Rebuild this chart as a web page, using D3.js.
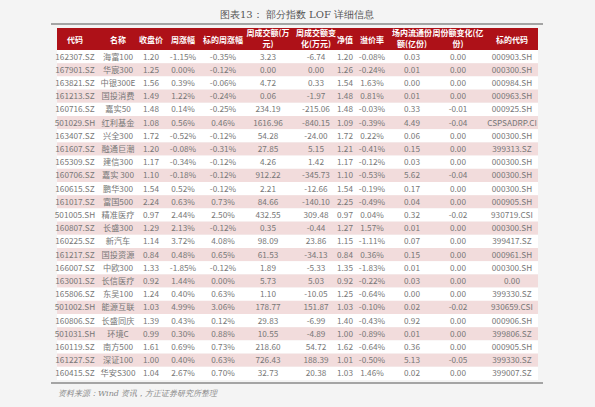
<!DOCTYPE html><html><head><meta charset="utf-8"><script src="https://cdn.jsdelivr.net/npm/d3@7"></script>
<style>body{margin:0;background:#f4f4f4}</style></head><body><svg id="c" width="595" height="407"></svg><script>
const headers=[["代码"],["名称"],["收盘价"],["周涨幅"],["标的周涨幅"],["周成交额(万","元)"],["周成交额变","化(万元)"],["净值"],["溢价率"],["场内流通份","额(亿份)"],["周份额变化(亿","份)"],["标的代码"]];
const codes=["162307.SZ","167901.SZ","163821.SZ","161213.SZ","160716.SZ","501029.SH","163407.SZ","161607.SZ","165309.SZ","160706.SZ","160615.SZ","161017.SZ","501005.SH","160807.SZ","160225.SZ","161217.SZ","166007.SZ","163001.SZ","165806.SZ","501002.SH","160806.SZ","501031.SH","160119.SZ","161227.SZ","160415.SZ"];
const names=["海富100","华宸300","中银300E","国投消费","嘉实50","红利基金","兴全300","融通巨潮","建信300","嘉实 300","鹏华300","富国500","精准医疗","长盛300","新汽车","国投资源","中欧300","长信医疗","东吴100","能源互联","长盛同庆","环境C","南方500","深证100","华安S300"];
const close=["1.20","1.25","1.56","1.49","1.48","1.08","1.72","1.20","1.17","1.10","1.54","2.24","0.97","1.29","1.14","0.84","1.33","0.92","1.24","1.03","1.39","0.99","1.61","1.00","1.04"];
const weekChg=["-1.15%","0.00%","0.39%","1.22%","0.14%","0.56%","-0.52%","-0.08%","-0.34%","-0.18%","0.52%","0.63%","2.44%","2.13%","3.72%","0.48%","-1.85%","1.44%","0.40%","4.99%","0.43%","0.30%","0.69%","0.40%","2.67%"];
const idxChg=["-0.35%","-0.12%","-0.06%","-0.24%","-0.25%","0.46%","-0.12%","-0.31%","-0.12%","-0.12%","-0.12%","0.73%","2.50%","-0.12%","4.08%","0.65%","-0.12%","0.00%","0.63%","3.06%","0.12%","0.88%","0.73%","0.63%","0.70%"];
const turnover=["3.23","0.00","4.72","0.06","234.19","1616.96","54.28","27.85","4.26","912.22","2.21","84.66","432.55","0.35","98.09","61.53","1.89","5.73","1.10","178.77","29.83","10.55","218.60","726.43","32.73"];
const turnoverChg=["-6.74","0.00","0.33","-1.97","-215.06","-840.15","-24.00","5.15","1.42","-345.73","-12.66","-140.10","309.48","-0.44","23.86","-34.13","-5.33","5.03","-10.05","151.87","-6.99","-4.89","54.72","188.39","20.38"];
const nav=["1.20","1.26","1.54","1.48","1.48","1.09","1.72","1.21","1.17","1.10","1.54","2.25","0.97","1.27","1.15","0.84","1.35","0.92","1.25","1.03","1.40","1.00","1.62","1.01","1.03"];
const premium=["-0.08%","-0.24%","1.63%","0.81%","-0.03%","-0.39%","0.22%","-0.41%","-0.12%","-0.53%","-0.19%","-0.49%","0.04%","1.57%","-1.11%","0.36%","-1.83%","-0.22%","-0.64%","-0.10%","-0.43%","-0.89%","-0.64%","-0.50%","1.46%"];
const shares=["0.03","0.01","0.00","0.01","0.33","4.49","0.06","0.15","0.03","5.62","0.17","0.04","0.32","0.01","0.07","0.15","0.01","0.03","0.00","0.02","0.92","0.01","0.36","5.13","0.02"];
const shareChg=["0.00","0.00","0.00","0.00","-0.01","-0.04","0.00","0.00","0.00","-0.04","0.00","0.00","-0.02","0.00","0.00","0.00","0.00","0.00","0.00","-0.02","0.00","0.00","0.00","-0.05","0.00"];
const idxCode=["000903.SH","000300.SH","000984.SH","000963.SH","000925.SH","CSPSADRP.CI","000300.SH","399313.SZ","000300.SH","000300.SH","000300.SH","000905.SH","930719.CSI","000300.SH","399417.SZ","000961.SH","000300.SH","0.00","399330.SZ","930659.CSI","000906.SH","399806.SZ","000905.SH","399330.SZ","399007.SZ"];
const cols=[codes,names,close,weekChg,idxChg,turnover,turnoverChg,nav,premium,shares,shareChg,idxCode];
const colCenters=[75,118,151,183,223,268,316,345,372,412,458,512];
const svg=d3.select("#c");
const L=57,R=538;
const y=d3.scaleBand().domain(d3.range(codes.length)).range([50,380]);
svg.append("text").attr("x",297).attr("y",18).attr("text-anchor","middle").attr("font-family","'DejaVu Serif',serif").attr("font-size",10).attr("fill","#555").text("图表13：   部分指数 LOF 详细信息");
svg.append("line").attr("x1",51).attr("x2",543).attr("y1",24).attr("y2",24).attr("stroke","#555").attr("stroke-width",1.2);
svg.append("rect").attr("x",L).attr("y",28).attr("width",R-L).attr("height",22).attr("fill","#ae1118");
headers.forEach((h,i)=>{h.forEach((t,j)=>{svg.append("text").attr("x",colCenters[i]).attr("y",h.length==1?42.5:36+j*11).attr("text-anchor","middle").attr("font-family","'Noto Sans CJK SC',sans-serif").attr("font-size",8).attr("font-weight","bold").attr("fill","#fff").text(t);});});
svg.selectAll("rect.row").data(codes).enter().append("rect").attr("x",L).attr("width",R-L).attr("y",(d,i)=>y(i)).attr("height",y.bandwidth()).attr("fill",(d,i)=>i%2?"#f2dcdc":"#fff");
cols.forEach((arr,ci)=>{svg.selectAll(null).data(arr).enter().append("text").attr("x",colCenters[ci]).attr("y",(d,i)=>y(i)+y.bandwidth()/2+3).attr("text-anchor","middle").attr("font-family","'Noto Sans CJK SC',sans-serif").attr("font-size",8.2).attr("fill","#777").text(d=>d);});
svg.append("line").attr("x1",51).attr("x2",543).attr("y1",383).attr("y2",383).attr("stroke","#555").attr("stroke-width",1.2);
svg.append("text").attr("x",58).attr("y",396).attr("font-family","'DejaVu Serif',serif").attr("font-style","italic").attr("font-size",8).attr("fill","#888").text("资料来源：Wind 资讯，方正证券研究所整理");
</script></body></html>
